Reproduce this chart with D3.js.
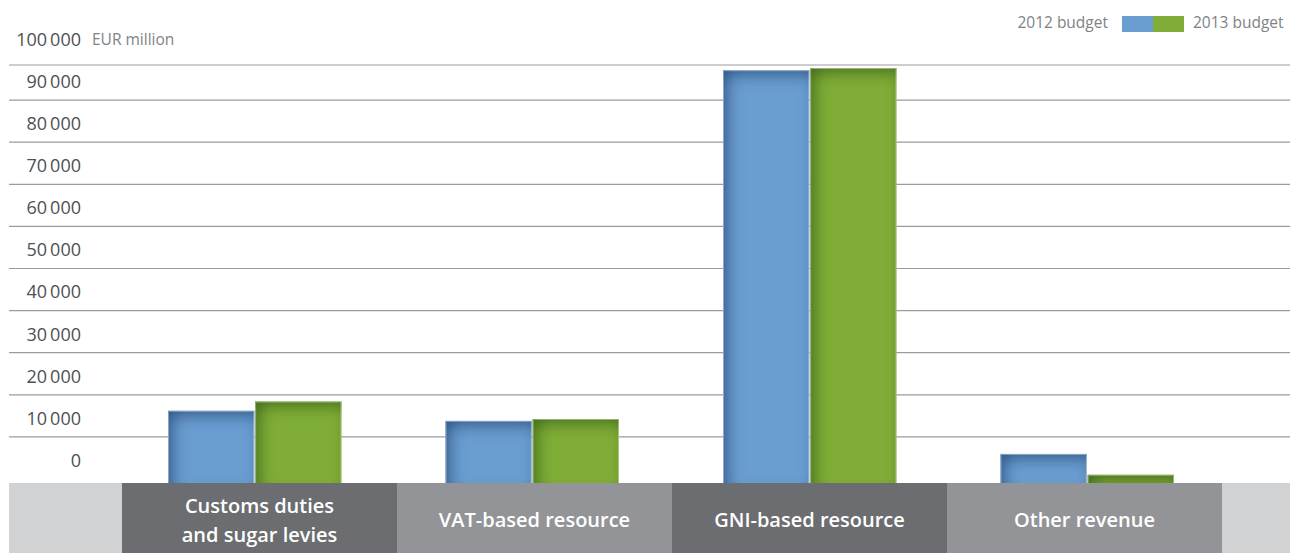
<!DOCTYPE html>
<html>
<head>
<meta charset="utf-8">
<script src="https://cdn.jsdelivr.net/npm/d3@7"></script>
<style>
  body { margin: 0; background: #fff; }
  svg { display: block; font-family: "Open Sans", "Noto Sans", sans-serif; }
</style>
</head>
<body>
<svg id="chart" width="1290" height="553"></svg>
<script>
// data (EUR million)
var categories = ['Customs duties\nand sugar levies', 'VAT-based resource', 'GNI-based resource', 'Other revenue'];
var series = ['2012 budget', '2013 budget'];
var values2012 = [16200, 13800, 97100, 5950];
var values2013 = [18400, 14250, 97600, 1000];
var yTicks = [0, 10000, 20000, 30000, 40000, 50000, 60000, 70000, 80000, 90000, 100000];
var unitLabel = 'EUR million';

var colors = ['#6a9dd2', '#80ad38'];
var shade = ['#2a5283', '#3b6a1c'];

var W = 1290, H = 553;
var lineLeft = 9, frameTop = 65, bandTop = 483;
var svg = d3.select('#chart');

var y = d3.scaleLinear().domain([0, 100000]).range([479, 58]);
var xBar = d3.scaleBand().domain(categories).range([116, 1226]);
var xCat = d3.scaleBand().domain(categories).range([122, 1222]);
var barW = 86;
var x1 = d3.scaleBand().domain(series).range([-barW - 0.75, barW + 0.75]).paddingInner(0.009);

var fmt = function (v) { return d3.format(',')(v).replace(/,/g, '\u2009'); };

// inner shadow filters, one per series
var defs = svg.append('defs');
series.forEach(function (s, i) {
    var f = defs.append('filter').attr('id', 'inner' + i)
        .attr('filterUnits', 'userSpaceOnUse')
        .attr('x', -W).attr('y', -H).attr('width', 3 * W).attr('height', 3 * H);
    f.append('feComponentTransfer').attr('in', 'SourceAlpha').attr('result', 'inv')
        .append('feFuncA').attr('type', 'table').attr('tableValues', '1 0');
    f.append('feGaussianBlur').attr('in', 'inv').attr('stdDeviation', 8).attr('result', 'blur');
    f.append('feOffset').attr('in', 'blur').attr('dx', 5).attr('dy', 5).attr('result', 'off');
    f.append('feComposite').attr('in', 'off').attr('in2', 'SourceAlpha').attr('operator', 'in').attr('result', 'sh');
    f.append('feFlood').attr('flood-color', shade[i]).attr('flood-opacity', 1).attr('result', 'col');
    f.append('feComposite').attr('in', 'col').attr('in2', 'sh').attr('operator', 'in').attr('result', 'csh');
    var m = f.append('feMerge');
    m.append('feMergeNode').attr('in', 'SourceGraphic');
    m.append('feMergeNode').attr('in', 'csh');
});

// grid lines
svg.append('line')
    .attr('x1', lineLeft).attr('x2', W)
    .attr('y1', frameTop).attr('y2', frameTop)
    .attr('stroke', '#9a9b9e').attr('stroke-width', 1.2);
svg.append('g').selectAll('line')
    .data(yTicks.filter(function (d) { return d > 0 && d < 100000; }))
    .enter().append('line')
    .attr('x1', lineLeft).attr('x2', W)
    .attr('y1', function (d) { return y(d); })
    .attr('y2', function (d) { return y(d); })
    .attr('stroke', '#9a9b9e').attr('stroke-width', 1.2);

// y labels sit above their line
svg.append('g').selectAll('text')
    .data(yTicks)
    .enter().append('text')
    .attr('x', 81)
    .attr('y', function (d) { return y(d) - 17; })
    .attr('text-anchor', 'end')
    .attr('dominant-baseline', 'middle')
    .attr('font-size', 18)
    .attr('fill', '#4f5053')
    .text(fmt);

svg.append('text')
    .attr('x', 92).attr('y', y(100000) - 17)
    .attr('dominant-baseline', 'middle')
    .attr('font-size', 15.5)
    .attr('fill', '#808285')
    .text(unitLabel);

// bars
var rows = categories.map(function (c, i) {
    return { cat: c, vals: [values2012[i], values2013[i]] };
});
var barData = function (d) {
    return d.vals.map(function (v, i) { return { s: series[i], i: i, v: v }; });
};
var groups = svg.append('g').selectAll('g')
    .data(rows)
    .enter().append('g')
    .attr('transform', function (d) {
        return 'translate(' + (xBar(d.cat) + xBar.bandwidth() / 2) + ',0)';
    });
groups.selectAll('rect.bar')
    .data(barData)
    .enter().append('rect')
    .attr('class', 'bar')
    .attr('x', function (d) { return x1(d.s); })
    .attr('width', x1.bandwidth())
    .attr('y', function (d) { return y(d.v); })
    .attr('height', function (d) { return bandTop + 6 - y(d.v); })
    .attr('fill', function (d) { return colors[d.i]; })
    .attr('filter', function (d) { return 'url(#inner' + d.i + ')'; });
groups.selectAll('rect.edge')
    .data(barData)
    .enter().append('rect')
    .attr('class', 'edge')
    .attr('x', function (d) { return x1(d.s) + 0.5; })
    .attr('width', x1.bandwidth() - 1)
    .attr('y', function (d) { return y(d.v) + 0.5; })
    .attr('height', function (d) { return bandTop + 6 - y(d.v); })
    .attr('fill', 'none')
    .attr('stroke', '#ffffff')
    .attr('stroke-opacity', 0.4);

// category strip
svg.append('rect')
    .attr('x', lineLeft).attr('y', bandTop)
    .attr('width', W - lineLeft).attr('height', H - bandTop)
    .attr('fill', '#d1d2d4');
var cat = svg.append('g').selectAll('g')
    .data(categories)
    .enter().append('g');
cat.append('rect')
    .attr('x', function (d) { return xCat(d); })
    .attr('y', bandTop)
    .attr('width', xCat.bandwidth())
    .attr('height', H - bandTop)
    .attr('fill', function (d, i) { return i % 2 ? '#939497' : '#6c6d70'; });
cat.append('text')
    .attr('text-anchor', 'middle')
    .attr('font-size', 20)
    .attr('font-weight', 600)
    .attr('fill', '#ffffff')
    .each(function (d) {
        var lines = d.split('\n');
        var cx = xCat(d) + xCat.bandwidth() / 2;
        var mid = (bandTop + H) / 2 + 4;
        var t = d3.select(this);
        lines.forEach(function (l, k) {
            t.append('tspan')
                .attr('x', cx)
                .attr('y', mid + (k - (lines.length - 1) / 2) * 29)
                .attr('dominant-baseline', 'middle')
                .text(l);
        });
    });

// legend
var legend = svg.append('g').attr('transform', 'translate(1122,16)');
legend.append('text')
    .attr('x', -14).attr('y', 8)
    .attr('text-anchor', 'end')
    .attr('dominant-baseline', 'middle')
    .attr('font-size', 15.5)
    .attr('fill', '#808285')
    .text(series[0]);
legend.selectAll('rect')
    .data(series)
    .enter().append('rect')
    .attr('x', function (d, i) { return i * 31; })
    .attr('y', 0)
    .attr('width', 31).attr('height', 16)
    .attr('fill', function (d, i) { return colors[i]; });
legend.append('text')
    .attr('x', 71).attr('y', 8)
    .attr('dominant-baseline', 'middle')
    .attr('font-size', 15.5)
    .attr('fill', '#808285')
    .text(series[1]);
</script>
</body>
</html>
